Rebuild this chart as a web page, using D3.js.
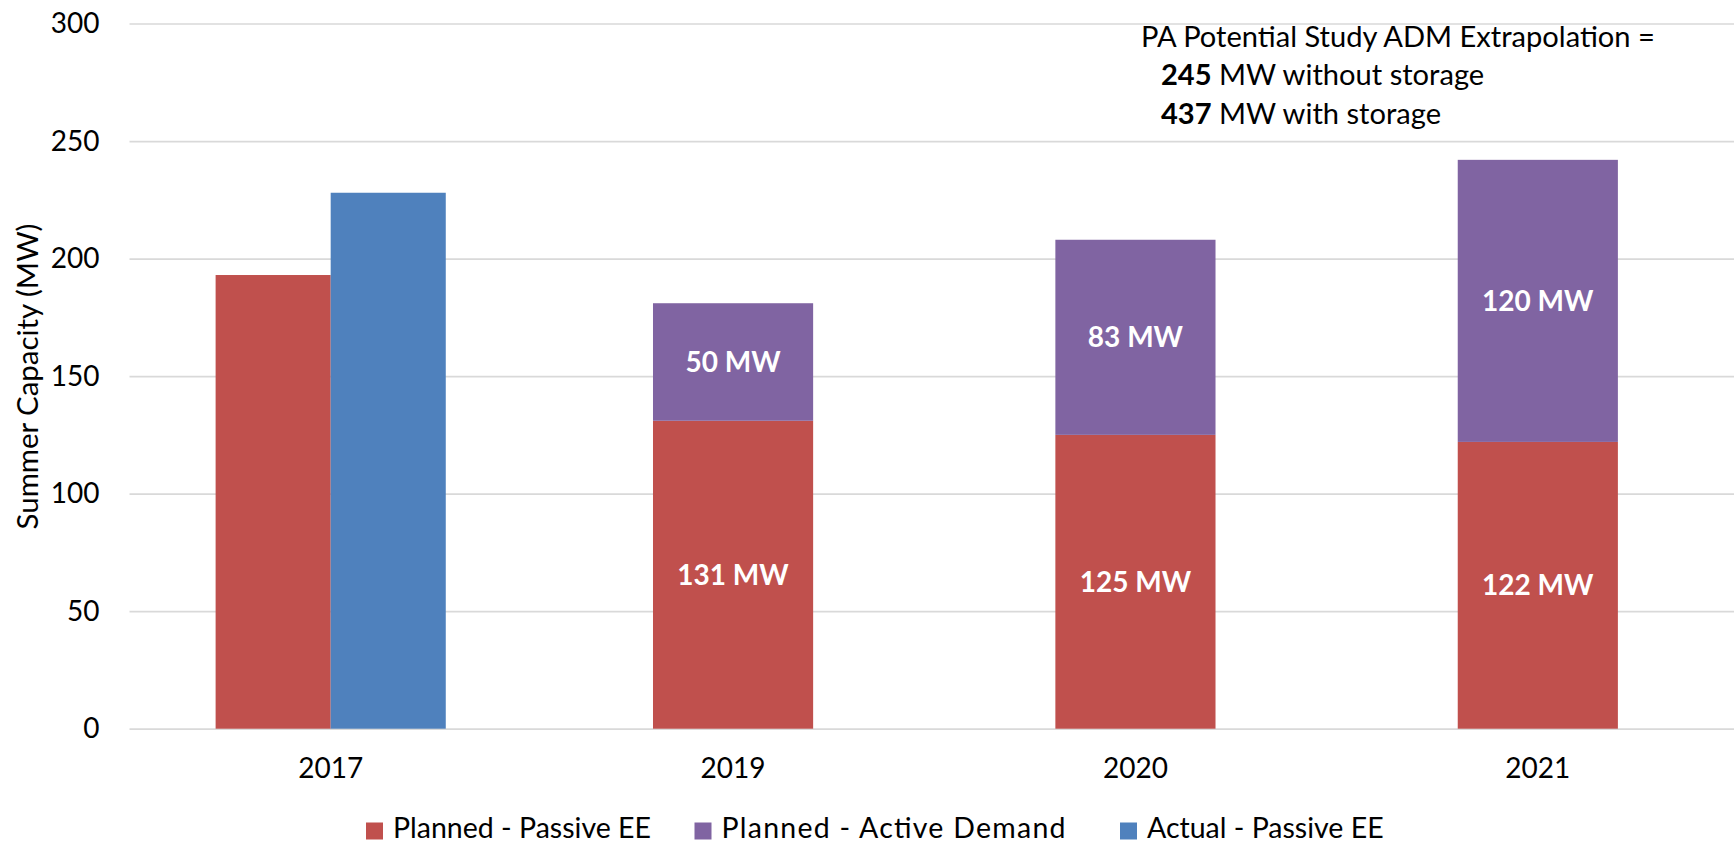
<!DOCTYPE html>
<html>
<head>
<meta charset="utf-8">
<script src="https://cdn.jsdelivr.net/npm/d3@7"></script>
<style>
  html, body { margin: 0; padding: 0; background: #fff; }
  svg { display: block; }
  text { font-family: Lato, "Open Sans", sans-serif; fill: #000; }
</style>
</head>
<body>
<svg id="chart" width="1734" height="845"></svg>
<script>
// ---- data ----
const categories = ["2017", "2019", "2020", "2021"];
const plannedPassive = [193, 131, 125, 122];
const plannedActive = [0, 50, 83, 120];
const actualPassive = [228, 0, 0, 0];
const yTicks = [0, 50, 100, 150, 200, 250, 300];
const seriesNames = ["Planned - Passive EE", "Planned - Active Demand", "Actual - Passive EE"];
const seriesColors = ["#C0504D", "#8064A2", "#4F81BD"];
const yTitle = "Summer Capacity (MW)";
const noteLines = [
  { bold: "", rest: "PA Potential Study ADM Extrapolation =" },
  { bold: "245", rest: " MW without storage" },
  { bold: "437", rest: " MW with storage" }
];

// ---- layout ----
const plotL = 129.5, plotR = 1739, plotT = 23.5, plotB = 728.7;
const svg = d3.select("#chart");

// fit a text element's font size so its rendered width equals target
function fitSize(textSel, target) {
  textSel.style("font-size", "100px");
  const w = textSel.node().getComputedTextLength();
  const s = 100 * target / w;
  textSel.style("font-size", s + "px");
  return s;
}

const x = d3.scaleBand().domain(categories).range([plotL, plotR]).paddingInner(0).paddingOuter(0);
const y = d3.scaleLinear().domain([0, 300]).range([plotB, plotT]);

// gridlines via axis
const yAxis = d3.axisLeft(y).tickValues(yTicks).tickSize(-(plotR - plotL)).tickPadding(30);
const gy = svg.append("g").attr("transform", `translate(${plotL},0)`).call(yAxis);
gy.select(".domain").remove();
gy.selectAll(".tick line").attr("stroke", "#D9D9D9").attr("stroke-width", 1.7);
gy.selectAll(".tick text")
  .attr("x", 99.5 - plotL)
  .style("font-size", "28px")
  .style("font-family", "Lato, 'Open Sans', sans-serif")
  .attr("fill", "#000");

// x axis labels
const xAxis = d3.axisBottom(x).tickSize(0).tickPadding(0);
const gx = svg.append("g").attr("transform", `translate(0,${plotB})`).call(xAxis);
gx.select(".domain").remove();
gx.selectAll(".tick text")
  .attr("y", 40)
  .attr("dy", "0.35em")
  .style("font-size", "28px")
  .style("font-family", "Lato, 'Open Sans', sans-serif")
  .attr("fill", "#000");

const step = x.bandwidth();
const stackW = step * 0.398;
const pairW = step * 0.286;

const bars = svg.append("g");
categories.forEach((c, i) => {
  const cx = x(c) + step / 2;
  if (actualPassive[i] > 0) {
    bars.append("rect")
      .attr("x", cx - pairW).attr("width", pairW)
      .attr("y", y(plannedPassive[i])).attr("height", y(0) - y(plannedPassive[i]))
      .attr("fill", seriesColors[0]);
    bars.append("rect")
      .attr("x", cx).attr("width", pairW)
      .attr("y", y(actualPassive[i])).attr("height", y(0) - y(actualPassive[i]))
      .attr("fill", seriesColors[2]);
  } else {
    const p = plannedPassive[i], a = plannedActive[i];
    bars.append("rect")
      .attr("x", cx - stackW / 2).attr("width", stackW)
      .attr("y", y(p)).attr("height", y(0) - y(p))
      .attr("fill", seriesColors[0]);
    bars.append("rect")
      .attr("x", cx - stackW / 2).attr("width", stackW)
      .attr("y", y(p + a)).attr("height", y(p) - y(p + a))
      .attr("fill", seriesColors[1]);
    [[0, p], [p, p + a]].forEach(([lo, hi], k) => {
      bars.append("text")
        .attr("x", cx).attr("y", y((lo + hi) / 2))
        .attr("text-anchor", "middle").attr("dy", "0.36em")
        .style("font-size", "28px").style("font-weight", "bold")
        .style("fill", "#fff")
        .text(`${k === 0 ? p : a} MW`);
    });
  }
});

// y title
const yt = svg.append("text")
  .attr("transform", `translate(28,376.5) rotate(-90)`)
  .attr("text-anchor", "middle").attr("dy", "0.35em")
  .text(yTitle);
fitSize(yt, 306);

// annotation
const note = svg.append("g");
const noteTexts = noteLines.map((ln, i) => {
  const t = note.append("text")
    .attr("x", i === 0 ? 1141 : 1161)
    .attr("y", 36.7 + i * 38.6)
    .attr("dy", "0.35em");
  if (ln.bold) t.append("tspan").style("font-weight", "bold").text(ln.bold);
  t.append("tspan").text(ln.rest);
  return t;
});
const noteSize = fitSize(noteTexts[0], 514);
noteTexts.forEach(t => t.style("font-size", noteSize + "px"));

// legend
const legendX = [366, 694.5, 1120];
const legendW = [258, 344, 236.6];
const leg = svg.append("g");
seriesNames.forEach((n, i) => {
  leg.append("rect").attr("x", legendX[i]).attr("y", 822.5).attr("width", 17).attr("height", 17)
    .attr("fill", seriesColors[i]);
  leg.append("text").attr("x", legendX[i] + 27).attr("y", 828.5).attr("dy", "0.35em")
    .style("font-size", "28.5px")
    .attr("textLength", legendW[i]).attr("lengthAdjust", "spacing")
    .text(n);
});
</script>
</body>
</html>
